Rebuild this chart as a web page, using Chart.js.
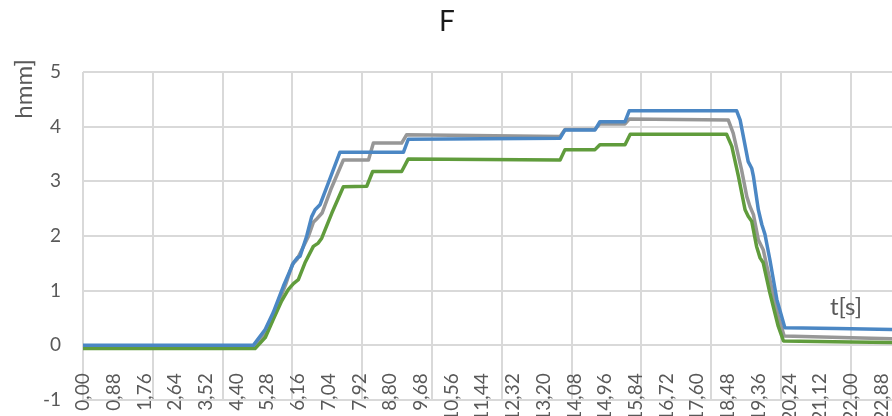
<!DOCTYPE html>
<html>
<head>
<meta charset="utf-8">
<script src="https://cdn.jsdelivr.net/npm/chart.js@4.4.1/dist/chart.umd.min.js"></script>
<style>
  html, body { margin: 0; padding: 0; background: #fff; }
  #wrap { width: 892px; height: 416px; position: relative; }
</style>
</head>
<body>
<div id="wrap"><canvas id="chart"></canvas></div>
<script>
const chartTitle = "F";
const yAxisTitle = "hmm]";
const xAxisTitle = "t[s]";

// time axis (seconds)
const tMax = 23.18;
const xTickValues = [0, 0.88, 1.76, 2.64, 3.52, 4.40, 5.28, 6.16, 7.04, 7.92, 8.80, 9.68,
  10.56, 11.44, 12.32, 13.20, 14.08, 14.96, 15.84, 16.72, 17.60, 18.48, 19.36, 20.24,
  21.12, 22.00, 22.88];
const xGridValues = [0, 2, 4, 6, 8, 10, 12, 14, 16, 18, 20, 22];
const yMin = -1;
const yMax = 5;

// blue series
const blueTime = [0, 4.88, 5.22, 5.45, 5.74, 6.03, 6.14, 6.22, 6.41, 6.55, 6.65, 6.79, 7.03, 7.36,
  9.18, 9.32, 13.67, 13.81, 14.67, 14.81, 15.53, 15.65, 18.73, 18.83, 19.06, 19.16, 19.21,
  19.35, 19.45, 19.54, 19.68, 19.88, 20.11, 21.6, 23.18];
const blueValue = [0, 0, 0.29, 0.6, 1.08, 1.51, 1.6, 1.63, 2.0, 2.35, 2.48, 2.57, 2.97, 3.53,
  3.53, 3.77, 3.79, 3.94, 3.94, 4.09, 4.09, 4.29, 4.29, 4.12, 3.36, 3.24, 3.09,
  2.48, 2.21, 2.03, 1.57, 0.84, 0.32, 0.31, 0.29];

// gray series
const grayTime = [0, 4.93, 5.22, 5.5, 5.8, 6.0, 6.14, 6.45, 6.6, 6.68, 6.85, 7.1, 7.46, 8.18, 8.32,
  9.13, 9.27, 13.67, 13.81, 14.67, 14.81, 15.53, 15.65, 18.49, 18.63, 18.87, 19.02, 19.11,
  19.21, 19.35, 19.49, 19.68, 19.92, 20.09, 22.0, 23.18];
const grayValue = [-0.02, -0.02, 0.22, 0.62, 1.1, 1.48, 1.58, 1.98, 2.25, 2.3, 2.42, 2.85, 3.39, 3.39, 3.70,
  3.70, 3.85, 3.82, 3.95, 3.95, 4.05, 4.05, 4.14, 4.12, 3.88, 3.21, 2.72, 2.54,
  2.39, 1.93, 1.75, 1.20, 0.53, 0.17, 0.14, 0.12];

// green series
const greenTime = [0, 4.93, 5.22, 5.45, 5.69, 5.88, 6.03, 6.17, 6.36, 6.6, 6.74, 6.84, 7.13, 7.46,
  8.13, 8.3, 9.13, 9.32, 13.67, 13.81, 14.67, 14.81, 15.53, 15.68, 18.44, 18.59, 18.78,
  18.97, 19.06, 19.16, 19.3, 19.4, 19.49, 19.68, 19.92, 20.07, 22.0, 23.18];
const greenValue = [-0.06, -0.06, 0.14, 0.47, 0.81, 1.02, 1.13, 1.2, 1.51, 1.81, 1.87, 1.96, 2.42, 2.9,
  2.91, 3.18, 3.18, 3.41, 3.39, 3.58, 3.58, 3.67, 3.67, 3.86, 3.86, 3.64, 3.09,
  2.48, 2.36, 2.27, 1.81, 1.6, 1.51, 0.96, 0.35, 0.08, 0.06, 0.05];

const labelColor = "#595959";
const gridColor = "#d9d9d9";

function toPoints(times, values) {
  return times.map((t, i) => ({ x: t, y: values[i] }));
}

function lineSet(label, times, values, color) {
  return {
    label: label,
    data: toPoints(times, values),
    borderColor: color,
    borderWidth: 3.5,
    pointRadius: 0,
    tension: 0,
    borderJoinStyle: "round",
    borderCapStyle: "round",
    fill: false
  };
}

// texts placed like the original (axis titles sit inside the frame)
const textPlugin = {
  id: "texts",
  afterDraw(chart) {
    const ctx = chart.ctx;
    ctx.save();
    ctx.fillStyle = "#1a1a1a";
    ctx.font = "28px Lato";
    ctx.textAlign = "center";
    ctx.textBaseline = "alphabetic";
    ctx.fillText(chartTitle, 447, 31);

    ctx.fillStyle = labelColor;
    ctx.font = "24px Lato";
    ctx.fillText(xAxisTitle, 846, 315);

    ctx.translate(32, 89);
    ctx.rotate(-Math.PI / 2);
    ctx.fillText(yAxisTitle, 0, 0);
    ctx.restore();
  }
};

const ctx = document.getElementById("chart").getContext("2d");

new Chart(ctx, {
  type: "line",
  data: {
    datasets: [
      lineSet("blue", blueTime, blueValue, "#4b87c4"),
      lineSet("green", greenTime, greenValue, "#609c3c"),
      lineSet("gray", grayTime, grayValue, "#979797")
    ]
  },
  options: {
    responsive: true,
    maintainAspectRatio: false,
    animation: false,
    layout: { padding: { top: 72, right: 0, bottom: 16, left: 0 } },
    plugins: {
      legend: { display: false },
      title: { display: false },
      tooltip: { enabled: false }
    },
    scales: {
      x: {
        type: "linear",
        min: 0,
        max: tMax,
        position: { y: 0 },
        afterBuildTicks: scale => {
          scale.ticks = xTickValues.map(v => ({ value: v }));
        },
        afterFit: scale => {
          scale.height = 0;
          scale.paddingLeft = 0;
          scale.paddingRight = 0;
          scale.paddingTop = 0;
          scale.paddingBottom = 0;
        },
        grid: { display: false, drawTicks: false },
        border: { display: false },
        ticks: {
          autoSkip: false,
          minRotation: 90,
          maxRotation: 90,
          padding: 28,
          color: labelColor,
          font: { family: "Lato", size: 19 },
          callback: value => value.toFixed(2).replace(".", ",")
        }
      },
      x2: {
        type: "linear",
        min: 0,
        max: tMax,
        position: "bottom",
        afterBuildTicks: scale => {
          scale.ticks = xGridValues.map(v => ({ value: v }));
        },
        afterFit: scale => {
          scale.height = 0;
          scale.paddingLeft = 0;
          scale.paddingRight = 0;
          scale.paddingTop = 0;
          scale.paddingBottom = 0;
        },
        grid: { color: gridColor, lineWidth: 2, drawTicks: false },
        border: { display: false },
        ticks: { display: false }
      },
      y: {
        min: yMin,
        max: yMax,
        afterFit: scale => {
          scale.width = 83;
          scale.paddingTop = 0;
          scale.paddingBottom = 0;
        },
        grid: { color: gridColor, lineWidth: 2, drawTicks: false },
        border: { display: false },
        ticks: {
          stepSize: 1,
          padding: 22,
          color: labelColor,
          font: { family: "Lato", size: 19 }
        }
      }
    }
  },
  plugins: [textPlugin]
});
</script>
</body>
</html>
